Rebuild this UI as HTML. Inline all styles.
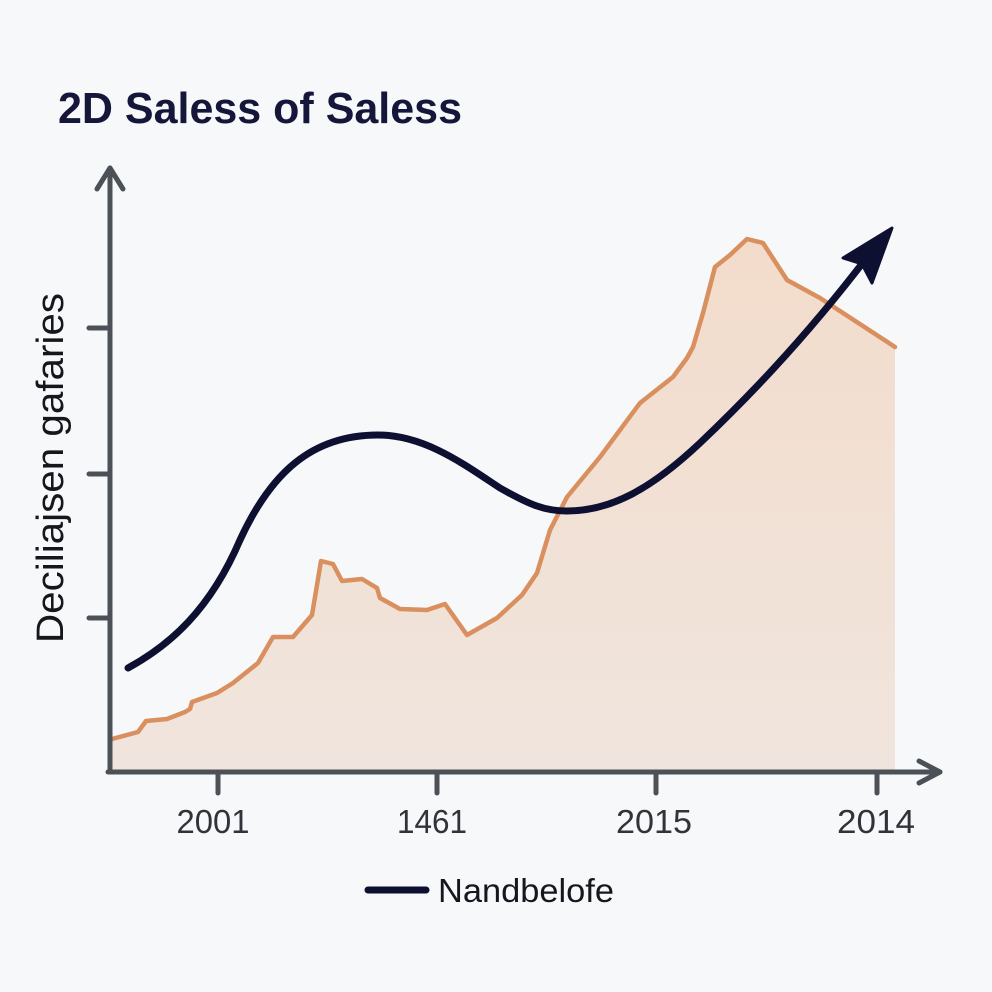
<!DOCTYPE html>
<html>
<head>
<meta charset="utf-8">
<style>
  html, body { margin: 0; padding: 0; background: #f7f8fa; }
  body { width: 992px; height: 992px; overflow: hidden; }
  svg { display: block; }
</style>
</head>
<body>
<svg width="992" height="992" viewBox="0 0 992 992" xmlns="http://www.w3.org/2000/svg">
  <defs>
    <linearGradient id="fillg" x1="0" y1="240" x2="0" y2="772" gradientUnits="userSpaceOnUse">
      <stop offset="0" stop-color="#f3dccb"/>
      <stop offset="1" stop-color="#f0e5de"/>
    </linearGradient>
  </defs>
  <rect width="992" height="992" fill="#f7f8fa"/>

  <!-- Title -->
  <text x="58" y="123" font-family="Liberation Sans, sans-serif" font-weight="bold" font-size="44" fill="#14163a" textLength="404" lengthAdjust="spacingAndGlyphs">2D Saless of Saless</text>

  <!-- Y label -->
  <text transform="translate(63,468) rotate(-90)" text-anchor="middle" font-family="Liberation Sans, sans-serif" font-size="38" fill="#15171c" textLength="350" lengthAdjust="spacingAndGlyphs">Deciliajsen gafaries</text>

  <!-- Area fill -->
  <polygon fill="url(#fillg)" points="112,739 138,732 146,721 167,719 185,712 190,709 192,702 217,693 233,683 258,663 273,637 293,637 312,615 321,561 333,564 342,581 362,579 377,588 380,598 400,609 427,610 445,604 467,635 497,618 522,595 537,573 550,530 567,497 600,457 640,403 673,377 687,358 693,347 703,313 715,267 730,255 747,239 763,243 787,280 820,298 895,347 895,772 112,772"/>
  <polyline fill="none" stroke="#d98f5e" stroke-width="4.5" stroke-linejoin="round" stroke-linecap="round" points="112,739 138,732 146,721 167,719 185,712 190,709 192,702 217,693 233,683 258,663 273,637 293,637 312,615 321,561 333,564 342,581 362,579 377,588 380,598 400,609 427,610 445,604 467,635 497,618 522,595 537,573 550,530 567,497 600,457 640,403 673,377 687,358 693,347 703,313 715,267 730,255 747,239 763,243 787,280 820,298 895,347"/>

  <!-- Axes -->
  <g stroke="#4b5157" stroke-width="5" fill="none" stroke-linecap="round" stroke-linejoin="round">
    <line x1="110" y1="168" x2="110" y2="772"/>
    <line x1="108" y1="772" x2="940" y2="772"/>
    <polyline points="97,189 110,168 123,189"/>
    <polyline points="919,761 940,772 919,783"/>
    <line x1="89" y1="328" x2="110" y2="328"/>
    <line x1="89" y1="474" x2="110" y2="474"/>
    <line x1="89" y1="618" x2="110" y2="618"/>
    <line x1="218" y1="772" x2="218" y2="793"/>
    <line x1="437" y1="772" x2="437" y2="793"/>
    <line x1="656" y1="772" x2="656" y2="793"/>
    <line x1="877" y1="772" x2="877" y2="793"/>
  </g>

  <!-- Navy curve -->
  <path d="M128,668 C170,645 210,610 240,540 C270,475 310,435 378,435 C425,435 465,465 500,488 C530,505 545,511 567,511 C610,511 650,490 700,443 C740,405 800,345 868,256" fill="none" stroke="#0e1032" stroke-width="7" stroke-linecap="round"/>
  <polygon points="892,228 843,258 862,264 872,283" fill="#0e1032" stroke="#0e1032" stroke-width="3" stroke-linejoin="round"/>

  <!-- X tick labels -->
  <g font-family="Liberation Sans, sans-serif" font-size="33" fill="#30343a" text-anchor="middle">
    <text x="213" y="833" textLength="73" lengthAdjust="spacingAndGlyphs">2001</text>
    <text x="432" y="833" textLength="70" lengthAdjust="spacingAndGlyphs">1461</text>
    <text x="654" y="833" textLength="76" lengthAdjust="spacingAndGlyphs">2015</text>
    <text x="876" y="833" textLength="78" lengthAdjust="spacingAndGlyphs">2014</text>
  </g>

  <!-- Legend -->
  <line x1="368" y1="890" x2="426" y2="890" stroke="#0e1032" stroke-width="7" stroke-linecap="round"/>
  <text x="438" y="902" font-family="Liberation Sans, sans-serif" font-size="33" fill="#15171f" textLength="176" lengthAdjust="spacingAndGlyphs">Nandbelofe</text>
</svg>
</body>
</html>
